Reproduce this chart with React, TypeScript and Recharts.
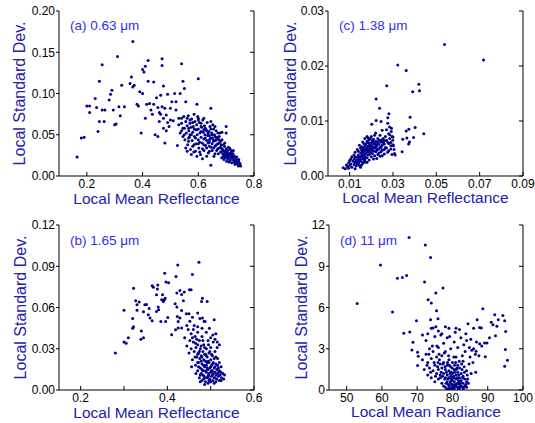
import React from 'react';
import { ScatterChart, Scatter, XAxis, YAxis } from 'recharts';

const FONT = '"Liberation Sans", Arial, Helvetica, sans-serif';
const DOT = '#00008a';
const TITLE = '#2222aa';
const TAG = '#3030ee';

// ─── data as [mean, std dev] ─────────────────────────────────────────────────
const panelA: [number, number][] = [
  [0.165, 0.023], [0.18, 0.046], [0.19, 0.047], [0.2, 0.085], [0.21, 0.085], [0.21, 0.077], [0.23, 0.094], [0.235, 0.083],
  [0.24, 0.054], [0.245, 0.066], [0.245, 0.115], [0.255, 0.135], [0.255, 0.08], [0.262, 0.066], [0.265, 0.08], [0.28, 0.092],
  [0.285, 0.099], [0.29, 0.104], [0.295, 0.08], [0.3, 0.062], [0.305, 0.063], [0.31, 0.145], [0.315, 0.084], [0.32, 0.073],
  [0.325, 0.11], [0.335, 0.084], [0.355, 0.112], [0.36, 0.12], [0.365, 0.163], [0.365, 0.108], [0.37, 0.11], [0.38, 0.087],
  [0.385, 0.085], [0.39, 0.102], [0.395, 0.052], [0.4, 0.1], [0.4, 0.129], [0.405, 0.126], [0.41, 0.07], [0.41, 0.133],
  [0.415, 0.087], [0.42, 0.14], [0.42, 0.115], [0.425, 0.088], [0.43, 0.08], [0.44, 0.114], [0.445, 0.05], [0.45, 0.095],
  [0.455, 0.048], [0.46, 0.077], [0.465, 0.075], [0.465, 0.098], [0.47, 0.134], [0.47, 0.142], [0.475, 0.109], [0.48, 0.082],
  [0.48, 0.04], [0.485, 0.055], [0.49, 0.099], [0.5, 0.082], [0.5, 0.068], [0.505, 0.09], [0.51, 0.067], [0.515, 0.1],
  [0.52, 0.09], [0.52, 0.08], [0.525, 0.037], [0.53, 0.07], [0.535, 0.1], [0.54, 0.136], [0.54, 0.055], [0.545, 0.115],
  [0.55, 0.106], [0.555, 0.09], [0.56, 0.07], [0.565, 0.046], [0.57, 0.068], [0.58, 0.065], [0.585, 0.075], [0.595, 0.087],
  [0.6, 0.118], [0.6, 0.07], [0.61, 0.06], [0.62, 0.07], [0.63, 0.055], [0.645, 0.082], [0.65, 0.05], [0.64, 0.03],
  [0.645, 0.013], [0.66, 0.06], [0.67, 0.045], [0.685, 0.053], [0.7, 0.052], [0.7, 0.06], [0.455, 0.083], [0.46, 0.066],
  [0.47, 0.084], [0.475, 0.07], [0.485, 0.074], [0.49, 0.065], [0.495, 0.06], [0.475, 0.058], [0.44, 0.087], [0.435, 0.075],
  [0.53, 0.062], [0.535, 0.052], [0.54, 0.064], [0.545, 0.048], [0.548, 0.072], [0.55, 0.058], [0.552, 0.044], [0.555, 0.066],
  [0.557, 0.052], [0.56, 0.061], [0.562, 0.038], [0.564, 0.073], [0.566, 0.055], [0.568, 0.047], [0.57, 0.064], [0.572, 0.032],
  [0.574, 0.059], [0.576, 0.069], [0.578, 0.043], [0.58, 0.053], [0.582, 0.06], [0.584, 0.029], [0.586, 0.048], [0.588, 0.066],
  [0.59, 0.056], [0.592, 0.039], [0.594, 0.062], [0.596, 0.05], [0.598, 0.072], [0.6, 0.044], [0.6, 0.057], [0.602, 0.034],
  [0.604, 0.065], [0.606, 0.052], [0.608, 0.026], [0.61, 0.047], [0.612, 0.059], [0.614, 0.04], [0.616, 0.068], [0.618, 0.053],
  [0.62, 0.031], [0.62, 0.045], [0.622, 0.061], [0.624, 0.05], [0.626, 0.037], [0.628, 0.056], [0.63, 0.043], [0.632, 0.065],
  [0.634, 0.049], [0.636, 0.028], [0.638, 0.054], [0.64, 0.041], [0.642, 0.06], [0.644, 0.046], [0.646, 0.035], [0.648, 0.052],
  [0.65, 0.039], [0.652, 0.062], [0.654, 0.044], [0.656, 0.024], [0.658, 0.05], [0.66, 0.036], [0.662, 0.043], [0.664, 0.055],
  [0.666, 0.031], [0.668, 0.047], [0.67, 0.039], [0.672, 0.027], [0.674, 0.044], [0.676, 0.034], [0.678, 0.052], [0.68, 0.029],
  [0.682, 0.038], [0.684, 0.022], [0.686, 0.033], [0.688, 0.027], [0.69, 0.031], [0.692, 0.02], [0.694, 0.036], [0.696, 0.026],
  [0.698, 0.03], [0.7, 0.024], [0.7, 0.033], [0.702, 0.018], [0.704, 0.028], [0.706, 0.031], [0.708, 0.022], [0.71, 0.027],
  [0.712, 0.034], [0.714, 0.019], [0.716, 0.025], [0.718, 0.029], [0.72, 0.022], [0.72, 0.016], [0.722, 0.026], [0.724, 0.02],
  [0.726, 0.031], [0.728, 0.017], [0.73, 0.024], [0.732, 0.014], [0.734, 0.021], [0.736, 0.018], [0.738, 0.023], [0.74, 0.015],
  [0.742, 0.019], [0.744, 0.012], [0.746, 0.017], [0.748, 0.014], [0.75, 0.015], [0.752, 0.012], [0.708, 0.035], [0.715, 0.028],
  [0.695, 0.04], [0.685, 0.044], [0.725, 0.027], [0.705, 0.025], [0.69, 0.024], [0.73, 0.019], [0.715, 0.023], [0.72, 0.03],
  [0.71, 0.017], [0.7, 0.028], [0.695, 0.022], [0.56, 0.03], [0.575, 0.026], [0.59, 0.03], [0.605, 0.029], [0.615, 0.021],
  [0.63, 0.024], [0.58, 0.036], [0.595, 0.024], [0.545, 0.058], [0.54, 0.07], [0.55, 0.05], [0.565, 0.042], [0.57, 0.05],
  [0.585, 0.057], [0.61, 0.054], [0.625, 0.046], [0.64, 0.049], [0.655, 0.057], [0.645, 0.066], [0.6, 0.068], [0.59, 0.046],
  [0.62, 0.038], [0.635, 0.04], [0.65, 0.031], [0.66, 0.048], [0.67, 0.052], [0.675, 0.04], [0.68, 0.035], [0.665, 0.038],
  [0.655, 0.042], [0.64, 0.036], [0.605, 0.041], [0.615, 0.033], [0.625, 0.058], [0.635, 0.052], [0.645, 0.057], [0.655, 0.034],
  [0.665, 0.046], [0.675, 0.048], [0.685, 0.03], [0.695, 0.029], [0.705, 0.021], [0.715, 0.032], [0.725, 0.023], [0.735, 0.016],
  [0.745, 0.02], [0.575, 0.05], [0.585, 0.038], [0.595, 0.056], [0.565, 0.058], [0.555, 0.034], [0.6, 0.039], [0.61, 0.064],
  [0.62, 0.056], [0.63, 0.034], [0.64, 0.044], [0.65, 0.046], [0.66, 0.027], [0.67, 0.033], [0.68, 0.042], [0.69, 0.038],
];

const panelC: [number, number][] = [
  [0.0538, 0.0239], [0.0718, 0.0211], [0.0322, 0.0202], [0.0361, 0.0192], [0.0419, 0.0167], [0.0422, 0.0155], [0.0391, 0.0153],
  [0.0271, 0.0164], [0.0222, 0.014], [0.0238, 0.0123], [0.0281, 0.0113], [0.0276, 0.0106], [0.0379, 0.0107], [0.0442, 0.0077],
  [0.0402, 0.0088], [0.0373, 0.0085], [0.0361, 0.0082], [0.0395, 0.007], [0.0364, 0.0069], [0.0376, 0.0062], [0.0372, 0.0058],
  [0.0345, 0.0067], [0.0342, 0.0044], [0.0202, 0.0094], [0.0222, 0.0101], [0.0245, 0.0099], [0.0276, 0.0096], [0.0284, 0.0089],
  [0.0293, 0.0087], [0.0292, 0.0081], [0.0296, 0.0072], [0.0299, 0.0065], [0.0302, 0.0055], [0.0307, 0.0041], [0.031, 0.0038],
  [0.007, 0.0015], [0.008, 0.0013], [0.0085, 0.002], [0.009, 0.0017], [0.0095, 0.0024], [0.01, 0.0019], [0.01, 0.0028],
  [0.0105, 0.0022], [0.011, 0.0035], [0.011, 0.0016], [0.0115, 0.0027], [0.012, 0.0021], [0.012, 0.0031], [0.0125, 0.0043],
  [0.0125, 0.0025], [0.013, 0.0018], [0.013, 0.0034], [0.0135, 0.0029], [0.0135, 0.0048], [0.014, 0.0023], [0.014, 0.0038],
  [0.0145, 0.0031], [0.0145, 0.0056], [0.015, 0.0027], [0.015, 0.0042], [0.015, 0.0035], [0.0155, 0.002], [0.0155, 0.0047],
  [0.016, 0.0031], [0.016, 0.0062], [0.016, 0.0039], [0.0165, 0.0026], [0.0165, 0.0052], [0.0165, 0.0044], [0.017, 0.0035],
  [0.017, 0.0068], [0.017, 0.0029], [0.0175, 0.0048], [0.0175, 0.0041], [0.0175, 0.0058], [0.018, 0.0033], [0.018, 0.0053],
  [0.018, 0.0072], [0.0185, 0.0045], [0.0185, 0.0038], [0.0185, 0.0061], [0.019, 0.005], [0.019, 0.0029], [0.019, 0.0066],
  [0.0195, 0.0056], [0.0195, 0.0043], [0.02, 0.0048], [0.02, 0.0061], [0.02, 0.0035], [0.02, 0.0072], [0.0205, 0.0053],
  [0.0205, 0.0041], [0.021, 0.0058], [0.021, 0.0046], [0.021, 0.0067], [0.0215, 0.0037], [0.0215, 0.0052], [0.022, 0.0063],
  [0.022, 0.0044], [0.022, 0.0078], [0.0225, 0.0055], [0.0225, 0.0032], [0.023, 0.0049], [0.023, 0.0068], [0.023, 0.0059],
  [0.0235, 0.0042], [0.024, 0.0074], [0.024, 0.0053], [0.024, 0.0036], [0.0245, 0.0062], [0.025, 0.0047], [0.025, 0.0083],
  [0.025, 0.0056], [0.0255, 0.0068], [0.026, 0.004], [0.026, 0.0058], [0.0265, 0.0072], [0.027, 0.0051], [0.027, 0.0065],
  [0.0275, 0.0043], [0.028, 0.0077], [0.028, 0.0059], [0.0285, 0.0068], [0.029, 0.0049], [0.029, 0.0061], [0.0295, 0.0039],
  [0.03, 0.0057], [0.03, 0.0071], [0.012, 0.0038], [0.013, 0.0025], [0.014, 0.0045], [0.0145, 0.0019], [0.015, 0.0051],
  [0.0155, 0.0036], [0.016, 0.0023], [0.0165, 0.0059], [0.017, 0.0047], [0.0175, 0.0033], [0.018, 0.0044], [0.0185, 0.0054],
  [0.019, 0.0039], [0.0195, 0.0068], [0.02, 0.0042], [0.0205, 0.0065], [0.021, 0.0031], [0.0215, 0.0074], [0.022, 0.0051],
  [0.0225, 0.0062], [0.023, 0.0039], [0.0235, 0.0058], [0.024, 0.0065], [0.0245, 0.0044], [0.025, 0.0037], [0.026, 0.0064],
  [0.0265, 0.0052], [0.027, 0.0084], [0.0275, 0.0062], [0.028, 0.0046], [0.0285, 0.0075], [0.0125, 0.0013], [0.0105, 0.0031],
  [0.0095, 0.0014], [0.0135, 0.0022], [0.0145, 0.0027], [0.015, 0.0016], [0.016, 0.0048], [0.017, 0.0054], [0.018, 0.0025],
  [0.019, 0.0059], [0.0195, 0.0049], [0.02, 0.0055], [0.0205, 0.0047], [0.021, 0.0052], [0.018, 0.0063], [0.0165, 0.0034],
  [0.0155, 0.0041], [0.0175, 0.0025], [0.0225, 0.0047], [0.0215, 0.0059], [0.0235, 0.0064], [0.0245, 0.0052], [0.0255, 0.0061],
  [0.026, 0.0048], [0.0305, 0.0048], [0.029, 0.0055], [0.014, 0.0034], [0.016, 0.0044], [0.018, 0.0049], [0.02, 0.0051],
  [0.022, 0.0057], [0.017, 0.0039], [0.019, 0.0045], [0.021, 0.0062], [0.015, 0.003], [0.013, 0.0028], [0.0235, 0.0049],
  [0.025, 0.0066], [0.0125, 0.0035], [0.0155, 0.0053], [0.0185, 0.0069],
];

const panelB: [number, number][] = [
  [0.28, 0.027], [0.3, 0.058], [0.3, 0.035], [0.305, 0.034], [0.31, 0.038], [0.32, 0.052], [0.32, 0.045], [0.322, 0.046],
  [0.322, 0.074], [0.327, 0.065], [0.33, 0.062], [0.33, 0.058], [0.335, 0.064], [0.34, 0.043], [0.345, 0.038], [0.339, 0.037],
  [0.473, 0.093], [0.424, 0.091], [0.394, 0.085], [0.458, 0.084], [0.42, 0.0825], [0.397, 0.0785], [0.403, 0.078],
  [0.365, 0.0758], [0.368, 0.0748], [0.378, 0.0763], [0.377, 0.0734], [0.451, 0.0729], [0.455, 0.0729], [0.429, 0.0724],
  [0.439, 0.0712], [0.422, 0.0705], [0.433, 0.0695], [0.375, 0.0692], [0.389, 0.0692], [0.395, 0.0668], [0.391, 0.0644],
  [0.387, 0.0656], [0.393, 0.0656], [0.437, 0.0649], [0.481, 0.0668], [0.492, 0.0644], [0.479, 0.0644], [0.348, 0.062],
  [0.352, 0.0622], [0.345, 0.0569], [0.358, 0.0593], [0.379, 0.0603], [0.38, 0.0584], [0.375, 0.0571], [0.418, 0.0627],
  [0.422, 0.0603], [0.433, 0.0579], [0.444, 0.0555], [0.45, 0.0555], [0.356, 0.0547], [0.36, 0.0523], [0.365, 0.0504],
  [0.385, 0.0499], [0.396, 0.0499], [0.401, 0.0528], [0.423, 0.0535], [0.425, 0.0499], [0.429, 0.0523], [0.481, 0.0523],
  [0.487, 0.0499], [0.508, 0.0511], [0.419, 0.0439], [0.425, 0.0451], [0.433, 0.0451], [0.41, 0.0402], [0.505, 0.04],
  [0.515, 0.035], [0.52, 0.033], [0.512, 0.041], [0.44, 0.038], [0.445, 0.032], [0.448, 0.044], [0.45, 0.027], [0.452, 0.036],
  [0.455, 0.041], [0.455, 0.03], [0.458, 0.022], [0.46, 0.035], [0.46, 0.044], [0.462, 0.028], [0.464, 0.039], [0.465, 0.018],
  [0.466, 0.031], [0.468, 0.024], [0.47, 0.042], [0.47, 0.033], [0.47, 0.014], [0.472, 0.027], [0.472, 0.02], [0.474, 0.036],
  [0.474, 0.009], [0.475, 0.023], [0.476, 0.016], [0.476, 0.03], [0.478, 0.012], [0.478, 0.025], [0.48, 0.039], [0.48, 0.019],
  [0.48, 0.007], [0.482, 0.028], [0.482, 0.014], [0.484, 0.022], [0.484, 0.033], [0.485, 0.01], [0.486, 0.017], [0.486, 0.026],
  [0.488, 0.006], [0.488, 0.021], [0.49, 0.013], [0.49, 0.03], [0.49, 0.018], [0.492, 0.009], [0.492, 0.024], [0.494, 0.015],
  [0.494, 0.036], [0.495, 0.011], [0.496, 0.02], [0.496, 0.027], [0.498, 0.008], [0.498, 0.016], [0.5, 0.013], [0.5, 0.022],
  [0.5, 0.031], [0.502, 0.01], [0.502, 0.018], [0.504, 0.014], [0.504, 0.025], [0.505, 0.007], [0.506, 0.012], [0.506, 0.02],
  [0.508, 0.016], [0.508, 0.009], [0.51, 0.013], [0.51, 0.028], [0.512, 0.011], [0.512, 0.019], [0.514, 0.008], [0.514, 0.015],
  [0.516, 0.012], [0.516, 0.023], [0.518, 0.01], [0.52, 0.014], [0.52, 0.007], [0.522, 0.011], [0.524, 0.017], [0.525, 0.009],
  [0.528, 0.012], [0.53, 0.008], [0.532, 0.011], [0.478, 0.032], [0.468, 0.037], [0.462, 0.047], [0.458, 0.053], [0.452, 0.05],
  [0.445, 0.047], [0.49, 0.042], [0.5, 0.038], [0.506, 0.035], [0.515, 0.031], [0.51, 0.037], [0.497, 0.045], [0.485, 0.05],
  [0.475, 0.052], [0.47, 0.056], [0.48, 0.045], [0.486, 0.004], [0.494, 0.005], [0.5, 0.006], [0.508, 0.005], [0.476, 0.006],
  [0.482, 0.011], [0.488, 0.014], [0.496, 0.012], [0.504, 0.019], [0.512, 0.024], [0.47, 0.02], [0.466, 0.012], [0.474, 0.028],
  [0.49, 0.025], [0.498, 0.028], [0.484, 0.018], [0.492, 0.016], [0.51, 0.017], [0.518, 0.013], [0.524, 0.013], [0.502, 0.026],
  [0.494, 0.021], [0.486, 0.009], [0.48, 0.024], [0.472, 0.017], [0.464, 0.024], [0.456, 0.017], [0.476, 0.011], [0.484, 0.008],
  [0.492, 0.02], [0.5, 0.017], [0.508, 0.023], [0.516, 0.018], [0.524, 0.007], [0.48, 0.015], [0.488, 0.026], [0.496, 0.007],
  [0.504, 0.011], [0.512, 0.006], [0.52, 0.02], [0.47, 0.026], [0.478, 0.021], [0.486, 0.031], [0.494, 0.01], [0.502, 0.014],
  [0.51, 0.009], [0.518, 0.016], [0.465, 0.034], [0.458, 0.038], [0.47, 0.046], [0.482, 0.036], [0.495, 0.033],
];

const panelD: [number, number][] = [
  [53, 6.3], [59.6, 9.1], [63, 5.67], [64.4, 8.13], [65.8, 8.18], [67, 8.32], [67.7, 11.1], [72.3, 10.55], [73.8, 9.63],
  [72.1, 7.85], [77.3, 7.41], [75.3, 7.05], [73.1, 6.56], [74, 6.32], [75.5, 5.76], [75.9, 5.18], [73.8, 5.11], [74.5, 4.51],
  [69.8, 5.04], [66.2, 4.12], [67.9, 4.22], [68.8, 3.47], [68.5, 2.91], [70.1, 2.74], [70.3, 2.45], [70.1, 1.78], [88.6, 5.91],
  [92, 5.47], [94.3, 5.42], [84.4, 4.82], [87, 5.11], [87.7, 4.55], [88.2, 4.51], [91, 4.92], [91.5, 4.75], [93, 5.11],
  [94.8, 5.04], [92.6, 4.63], [95.1, 4.26], [92.2, 3.95], [89.1, 3.42], [89.8, 3.42], [87.7, 3.37], [86.7, 2.81], [89.3, 2.41],
  [95, 2.94], [95.6, 2.16], [94.8, 1.73], [86.6, 1.29], [79, 4.5], [81, 4.5], [86, 4.5], [90.5, 3.8],
  [71.5, 2.2], [72, 1.5], [72.5, 2.6], [73, 1.1], [73, 2.0], [73.5, 1.6], [74, 2.3], [74, 0.9], [74.5, 1.4], [74.5, 2.8],
  [75, 1.8], [75, 0.6], [75.5, 1.2], [75.5, 2.4], [76, 1.5], [76, 0.8], [76, 3.1], [76.5, 1.9], [76.5, 1.1], [77, 0.5],
  [77, 1.6], [77, 2.5], [77.5, 1.2], [77.5, 0.3], [77.5, 2.0], [78, 0.9], [78, 1.5], [78, 0.2], [78, 2.8], [78.5, 1.1],
  [78.5, 0.6], [78.5, 1.8], [79, 0.3], [79, 0.9], [79, 1.4], [79, 2.2], [79.5, 0.1], [79.5, 0.5], [79.5, 1.0], [79.5, 1.7],
  [80, 0.2], [80, 0.7], [80, 1.2], [80, 0.4], [80, 2.0], [80.5, 0.1], [80.5, 0.6], [80.5, 0.9], [80.5, 1.5], [81, 0.3],
  [81, 0.8], [81, 1.1], [81, 2.4], [81.5, 0.2], [81.5, 0.5], [81.5, 1.3], [81.5, 1.8], [82, 0.4], [82, 0.9], [82, 0.1],
  [82, 1.6], [82.5, 0.3], [82.5, 0.7], [82.5, 1.2], [83, 0.2], [83, 0.5], [83, 1.0], [83, 2.1], [83.5, 0.3], [83.5, 0.8],
  [84, 0.2], [84, 0.6], [84, 1.4], [84.5, 0.5], [79.2, 0.15], [79.8, 0.35], [80.2, 0.05], [80.8, 0.25], [81.2, 0.45],
  [79.6, 0.8], [80.3, 1.0], [78.8, 0.4], [81.7, 0.7], [82.3, 0.5], [78.3, 1.3], [77.8, 0.8], [76.8, 1.3], [76.3, 2.2],
  [75.8, 1.7], [75.2, 1.0], [74.8, 2.0], [73.8, 1.3], [72.8, 1.8], [80.6, 1.3], [81.3, 1.6], [82.7, 1.5], [83.3, 1.7],
  [84.2, 1.1], [83.8, 0.4], [82.2, 0.2], [79.3, 1.2], [78.6, 2.0], [77.3, 1.9], [76.2, 2.6], [75.6, 3.2], [74.3, 3.2],
  [73.3, 2.6], [79.9, 1.6], [80.9, 2.0], [81.9, 2.1], [78.9, 2.5], [77.7, 2.7], [80.4, 2.4], [82.8, 2.5], [83.6, 2.8],
  [84.8, 3.1], [85.5, 2.9], [85, 2.4], [86, 3.0], [85.8, 2.0], [86.5, 2.6], [84, 3.6], [83.2, 3.3], [82.4, 3.8], [81.5, 3.1],
  [80.5, 3.5], [79.5, 3.0], [78.5, 3.8], [77.5, 3.4], [77, 4.1], [76, 4.3], [75, 3.9], [74, 4.5], [73, 4.1], [72.5, 3.6],
  [71.5, 4.0], [73.5, 3.0], [75.3, 4.6], [76.7, 4.0], [78, 4.6], [79.2, 3.9], [80.8, 4.2], [82, 4.4], [83.8, 4.1], [85.2, 3.7],
  [86.8, 3.5], [87.5, 2.5], [88.3, 3.2], [85.3, 1.2], [84.7, 1.9], [79.4, 0.6], [80.1, 0.9], [80.7, 0.4], [81.4, 0.9],
  [82.1, 0.6], [82.9, 0.9], [78.7, 0.8], [78.2, 0.5], [77.2, 1.0], [79.7, 1.3], [80.6, 1.8], [81.8, 1.1], [83.4, 1.3],
  [84.3, 0.8], [79.1, 1.8], [77.9, 1.7], [76.6, 0.9], [75.9, 2.0], [81.1, 1.5], [82.6, 1.9], [80.2, 0.3], [79.0, 0.1],
  [81.6, 0.05], [83.1, 0.1], [78.4, 0.1],
];

// ─── axis ticks ────────────────────────────────────────────────────────────────
const ticksAx = [0.2, 0.4, 0.6, 0.8];
const ticksAy = [0, 0.05, 0.1, 0.15, 0.2];
const ticksCx = [0.01, 0.03, 0.05, 0.07, 0.09];
const ticksCy = [0, 0.01, 0.02, 0.03];
const ticksBx = [0.2, 0.3, 0.4, 0.5, 0.6];
const ticksBy = [0, 0.03, 0.06, 0.09, 0.12];
const ticksDx = [50, 60, 70, 80, 90, 100];
const ticksDy = [0, 3, 6, 9, 12];

const toPoints = (rows: [number, number][]) => rows.map(([x, y]) => ({ x, y }));

interface PanelProps {
  data: [number, number][];
  xTitle: string;
  xDomain: [number, number];
  yDomain: [number, number];
  xTicks: number[];
  yTicks: number[];
  xFmt: (v: number) => string;
  yFmt: (v: number) => string;
  left: number;
  top: number;
  width: number;
  height: number;
  xAxisHeight: number;
  rightWidth: number;
  yTitleGap: number;
  xTitleDrop: number;
}

function Panel(p: PanelProps) {
  const tickStyle = { fontSize: 12, fill: '#000', fontFamily: FONT };
  const axisLine = { stroke: '#000', strokeWidth: 1 };
  const blank = () => '';
  return (
    <div style={{ position: 'absolute', left: p.left, top: p.top }}>
      <ScatterChart width={p.width} height={p.height} margin={{ top: 11, right: 0, bottom: 0, left: 0 }}>
        <XAxis
          type="number" dataKey="x" domain={p.xDomain} ticks={p.xTicks} allowDataOverflow
          height={p.xAxisHeight} tick={tickStyle} tickFormatter={p.xFmt} axisLine={axisLine}
          tickLine={{ stroke: '#000' }} tickSize={-4} tickMargin={7} interval={0}
          label={{
            content: (l: any) => (
              <text x={l.viewBox.x + l.viewBox.width / 2} y={l.viewBox.y + p.xTitleDrop} textAnchor="middle"
                fontSize={15.5} fill={TITLE} fontFamily={FONT}>{p.xTitle}</text>
            ),
          }}
        />
        <XAxis
          xAxisId="top" orientation="top" type="number" domain={p.xDomain} ticks={p.xTicks} allowDataOverflow
          height={0} tickFormatter={blank} axisLine={axisLine} tickLine={{ stroke: '#000' }} tickSize={-4} interval={0}
        />
        <YAxis
          type="number" dataKey="y" domain={p.yDomain} ticks={p.yTicks} allowDataOverflow
          width={59} tick={tickStyle} tickFormatter={p.yFmt} axisLine={axisLine}
          tickLine={{ stroke: '#000' }} tickSize={3} tickMargin={1} interval={0}
          label={{
            content: (l: any) => {
              const bx = l.viewBox.x + l.viewBox.width - p.yTitleGap;
              const cy = l.viewBox.y + l.viewBox.height / 2;
              return (
                <text transform={`translate(${bx}, ${cy}) rotate(-90)`} textAnchor="middle"
                  fontSize={16} fill={TITLE} fontFamily={FONT}>Local Standard Dev.</text>
              );
            },
          }}
        />
        <YAxis
          yAxisId="right" orientation="right" type="number" domain={p.yDomain} ticks={p.yTicks} allowDataOverflow
          width={p.rightWidth} tickFormatter={blank} axisLine={axisLine} tickLine={{ stroke: '#000' }} tickSize={-4} interval={0}
        />
        <Scatter
          data={toPoints(p.data)}
          isAnimationActive={false}
          shape={(s: any) => <circle cx={s.cx} cy={s.cy} r={1.5} fill={DOT} />}
        />
      </ScatterChart>
    </div>
  );
}

interface TagProps { text: string; x: number; baseline: number }
function Tag({ text, x, baseline }: TagProps) {
  return (
    <div style={{
      position: 'absolute', left: x, top: baseline - 11.5, whiteSpace: 'nowrap', fontFamily: FONT,
      fontSize: 13.5, lineHeight: '13.5px', color: TAG,
    }}>{text}</div>
  );
}

const fmt1 = (v: number) => v.toFixed(1);
const fmt2 = (v: number) => v.toFixed(2);
// panel (b) has a tick every 0.1 but labels only every 0.2
const fmtB = (v: number) => (Math.abs(v * 10 - Math.round(v * 5) * 2) < 0.01 ? v.toFixed(1) : '');
const fmt0 = (v: number) => String(v);

export default function App() {
  return (
    <div style={{ position: 'absolute', left: 0, top: 0, width: 535, height: 423, overflow: 'hidden', background: '#fff' }}>
      <Panel data={panelA} xTitle="Local Mean Reflectance" xDomain={[0.1, 0.8]} yDomain={[0, 0.2]}
        xTicks={ticksAx} yTicks={ticksAy} xFmt={fmt1} yFmt={fmt2}
        left={0} top={0} width={270} height={210} xAxisHeight={34} rightWidth={16} yTitleGap={34} xTitleDrop={28} />
      <Panel data={panelC} xTitle="Local Mean Reflectance" xDomain={[0, 0.09]} yDomain={[0, 0.03]}
        xTicks={ticksCx} yTicks={ticksCy} xFmt={fmt2} yFmt={fmt2}
        left={269} top={0} width={266} height={210} xAxisHeight={34} rightWidth={12} yTitleGap={32} xTitleDrop={27} />
      <Panel data={panelB} xTitle="Local Mean Reflectance" xDomain={[0.15, 0.6]} yDomain={[0, 0.12]}
        xTicks={ticksBx} yTicks={ticksBy} xFmt={fmtB} yFmt={fmt2}
        left={0} top={214} width={270} height={209} xAxisHeight={33} rightWidth={16} yTitleGap={33} xTitleDrop={28} />
      <Panel data={panelD} xTitle="Local Mean Radiance" xDomain={[45, 100]} yDomain={[0, 12]}
        xTicks={ticksDx} yTicks={ticksDy} xFmt={fmt0} yFmt={fmt0}
        left={270} top={214} width={265} height={209} xAxisHeight={33} rightWidth={12} yTitleGap={22} xTitleDrop={27} />
      <Tag text="(a) 0.63 μm" x={70} baseline={30.7} />
      <Tag text="(c) 1.38 μm" x={339} baseline={30.7} />
      <Tag text="(b) 1.65 μm" x={70} baseline={245.7} />
      <Tag text="(d) 11 μm" x={340} baseline={245.7} />
    </div>
  );
}
